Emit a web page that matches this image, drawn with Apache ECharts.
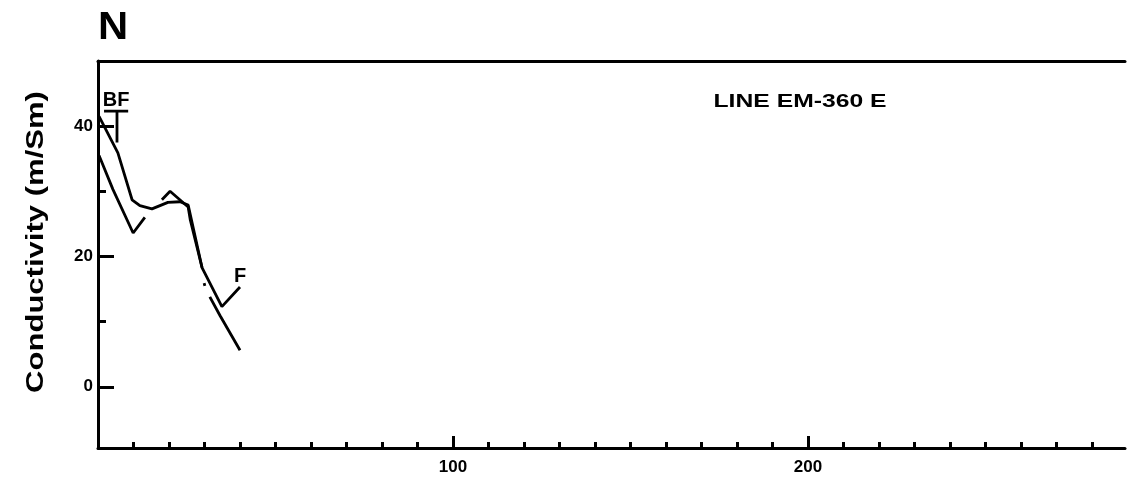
<!DOCTYPE html>
<html>
<head>
<meta charset="utf-8">
<script src="https://cdn.jsdelivr.net/npm/echarts@6/dist/echarts.min.js"></script>
<style>
  html, body { margin: 0; padding: 0; background: #fff; }
  #chart { width: 1128px; height: 480px; }
</style>
</head>
<body>
<div id="chart"></div>
<script>
// Conductivity profile along line EM-360 E: [distance, conductivity]
// An entry with a null reading breaks the trace.
const traceUpper = [
  [0.3, 41.5], [5.6, 35.9], [9.6, 28.7], [11.8, 27.8], [15.2, 27.3],
  [19.7, 28.3], [23.1, 28.4], [25.4, 27.9], [29.3, 18.3], [34.9, 12.3], [40.0, 15.3]
];
const traceLower = [
  [0.3, 35.5], [4.2, 30.3], [9.9, 23.6], [13.2, 26.0], [15.5, null],
  [18.0, 28.7], [20.3, 30.0], [25.4, 27.6], [26.0, 25.6], [29.3, 18.3], [29.6, null],
  [29.9, 15.9], [30.1, 15.5], [30.8, null],
  [31.5, 13.8], [34.4, 10.9], [40.0, 5.6]
];

// Feature marker "BF": horizontal bar and stem
const bfBar = [[1.7, 42.3], [8.5, 42.3]];
const bfStem = [[5.35, 42.3], [5.35, 37.5]];
const featureLabels = [
  { name: 'BF', value: [5.1, 44.0] },
  { name: 'F', value: [40.0, 17.0] }
];

// Axis ranges and tick positions
const xRange = [0, 289.3];
const yRange = [-9.4, 50];
const xMinorTicks = [10, 20, 30, 40, 50, 60, 70, 80, 90, 110, 120, 130, 140, 150, 160, 170, 180, 190,
                     210, 220, 230, 240, 250, 260, 270, 280];
const xMajorTicks = [100, 200];
const yMinorTicks = [10, 30];
const yMajorTicks = [0, 20, 40];

const FONT = '"Liberation Sans", Arial, Helvetica, sans-serif';
const INK = '#000';
const axisLineStyle = { color: INK, width: 3 };
const tickLineStyle = { color: INK, width: 3 };
const traceStyle = { color: INK, width: 2.8, opacity: 1 };

const chart = echarts.init(document.getElementById('chart'), null, { renderer: 'canvas' });

const baseX = { type: 'value', min: xRange[0], max: xRange[1], splitLine: { show: false } };
const baseY = { type: 'value', min: yRange[0], max: yRange[1], splitLine: { show: false } };

chart.setOption({
  animation: false,
  backgroundColor: '#fff',
  grid: { left: 98, right: 3, top: 61, bottom: 32, outerBoundsMode: 'none' },
  xAxis: [
    Object.assign({}, baseX, {
      position: 'bottom',
      axisLine: { show: true, onZero: false, lineStyle: axisLineStyle },
      axisTick: { show: true, inside: true, length: 6, lineStyle: tickLineStyle, customValues: xMinorTicks },
      axisLabel: { show: false }
    }),
    Object.assign({}, baseX, {
      position: 'bottom',
      axisLine: { show: false, onZero: false },
      axisTick: { show: true, inside: true, length: 12, lineStyle: tickLineStyle, customValues: xMajorTicks },
      axisLabel: {
        show: true, customValues: xMajorTicks, margin: 11,
        color: INK, fontFamily: FONT, fontWeight: 'bold', fontSize: 17
      }
    }),
    Object.assign({}, baseX, {
      position: 'top',
      axisLine: { show: true, onZero: false, lineStyle: axisLineStyle },
      axisTick: { show: false },
      axisLabel: { show: false }
    })
  ],
  yAxis: [
    Object.assign({}, baseY, {
      position: 'left',
      axisLine: { show: true, onZero: false, lineStyle: axisLineStyle },
      axisTick: { show: true, inside: true, length: 8, lineStyle: tickLineStyle, customValues: yMinorTicks },
      axisLabel: { show: false }
    }),
    Object.assign({}, baseY, {
      position: 'left',
      axisLine: { show: false, onZero: false },
      axisTick: { show: true, inside: true, length: 16, lineStyle: tickLineStyle, customValues: yMajorTicks },
      axisLabel: {
        show: true, customValues: yMajorTicks, margin: 5,
        color: INK, fontFamily: FONT, fontWeight: 'bold', fontSize: 17
      }
    })
  ],
  series: [
    { type: 'line', data: traceUpper, showSymbol: false, connectNulls: false, lineStyle: traceStyle },
    { type: 'line', data: traceLower, showSymbol: false, connectNulls: false, lineStyle: traceStyle },
    { type: 'line', data: bfBar, showSymbol: false, lineStyle: traceStyle },
    { type: 'line', data: bfStem, showSymbol: false, lineStyle: traceStyle },
    {
      type: 'scatter', data: featureLabels, symbolSize: 1,
      itemStyle: { color: 'rgba(0,0,0,0)', opacity: 1 },
      label: {
        show: true, position: 'inside', formatter: p => p.name, opacity: 1,
        color: INK, fontFamily: FONT, fontWeight: 'bold', fontSize: 20
      }
    }
  ],
  graphic: [
    {
      type: 'text', x: 113, y: 29, scaleX: 1.1,
      style: {
        text: 'N', fill: INK, font: 'bold 38px ' + FONT,
        textAlign: 'center', textVerticalAlign: 'middle'
      }
    },
    {
      type: 'text', x: 800, y: 102, scaleX: 1.3,
      style: {
        text: 'LINE EM-360 E', fill: INK, font: 'bold 19px ' + FONT,
        textAlign: 'center', textVerticalAlign: 'middle'
      }
    },
    {
      type: 'text', x: 37, y: 242, rotation: Math.PI / 2, scaleX: 1.35,
      style: {
        text: 'Conductivity (m/Sm)', fill: INK, font: 'bold 23px ' + FONT,
        textAlign: 'center', textVerticalAlign: 'middle'
      }
    }
  ]
});
</script>
</body>
</html>
